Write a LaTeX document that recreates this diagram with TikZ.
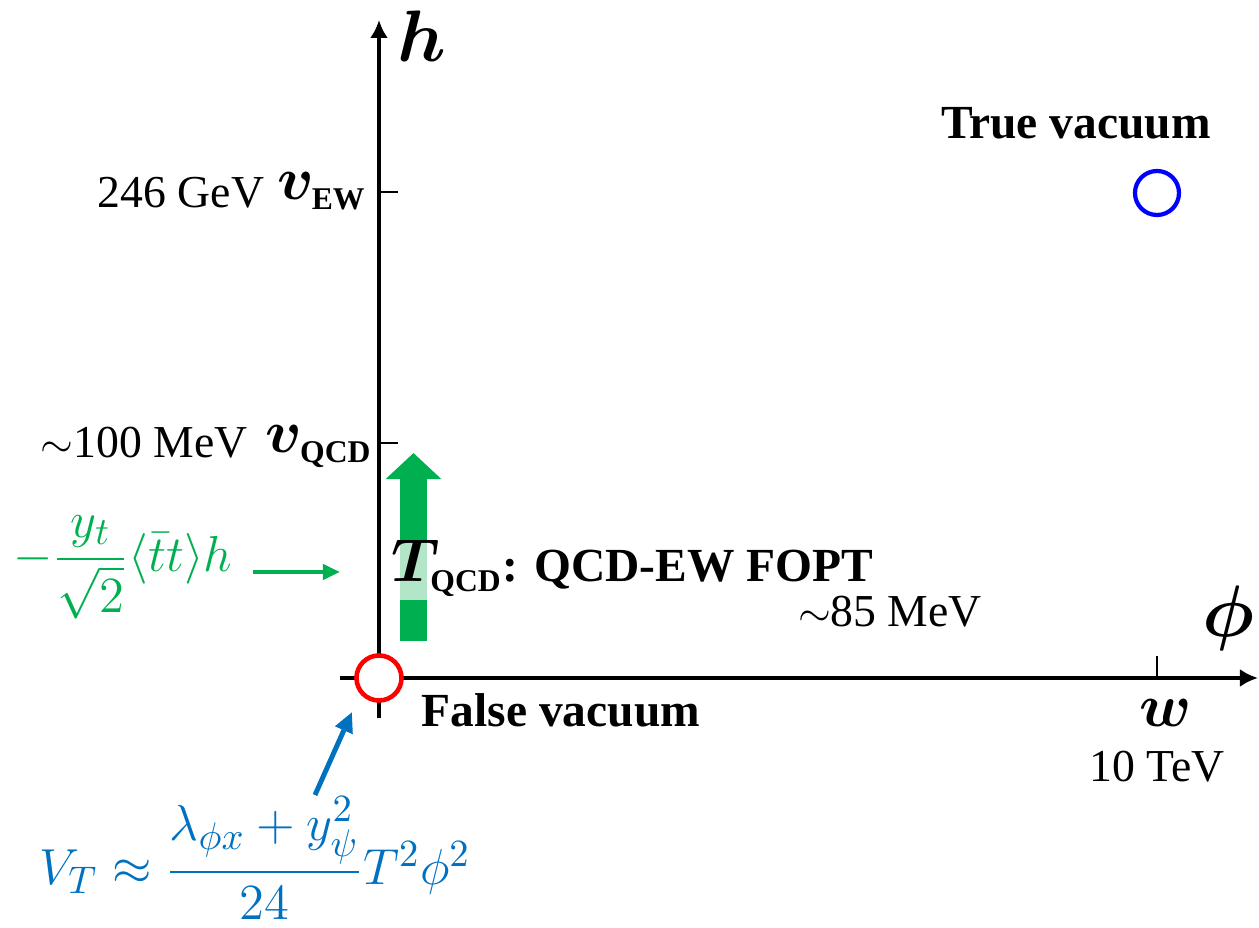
\documentclass[tikz,border=0pt]{standalone}
\usepackage{amsmath,amssymb,bm}
\usepackage{fontspec}
\setmainfont{Liberation Serif}
\usetikzlibrary{arrows.meta,calc}

\definecolor{fopt}{RGB}{0,176,80}
\definecolor{foptlight}{RGB}{179,229,200}
\definecolor{thermal}{RGB}{0,112,192}

\newcommand{\subbf}[1]{_{\mbox{\fontsize{9}{11}\selectfont\bfseries #1}}}

\begin{document}
\begin{tikzpicture}[x=0.01cm,y=-0.01cm]
	\tikzstyle{every node}=[inner sep=0pt]
	\tikzstyle{lbl}=[font=\fontsize{13}{15}\selectfont]
	\tikzstyle{blbl}=[font=\fontsize{13.5}{16}\selectfont\bfseries]
	\tikzstyle{mlbl}=[font=\fontsize{16}{19}\selectfont]
	\tikzstyle{biglbl}=[font=\fontsize{21}{24}\selectfont]
	\tikzstyle{axis}=[line width=1.4pt,-{Latex[length=0.18cm,width=0.18cm]}]
	\tikzstyle{tick}=[line width=0.7pt]
	\useasboundingbox (0,0) rectangle (1259,928);

	% axes
	\coordinate (O) at (379,678);
	\coordinate (hbot) at (379,718);
	\coordinate (htop) at (379,20);
	\coordinate (pleft) at (340,678);
	\coordinate (pright) at (1258,678);
	\draw [axis] (hbot) to (htop);
	\draw [axis] (pleft) to (pright);
	\node [biglbl] (hlabel) at (422,36) {$\bm{h}$};
	\node [biglbl] (philabel) at (1228,618) {$\bm{\phi}$};

	% ticks
	\coordinate (vew) at (379,192);
	\coordinate (vqcd) at (379,443);
	\coordinate (wtick) at (1157,678);
	\foreach \t in {vew,vqcd}{
	\draw [tick] (\t) to ++(19,0);
	}
	\draw [tick] (wtick) to ++(0,-22);

	% Annotations
	\node [mlbl,anchor=base east] (vewlabel) at (367,200) {$\bm{v}\subbf{EW}$};
	\node [lbl,anchor=base] (vewval) at (181,208) {246 GeV};
	\node [mlbl,anchor=base east] (vqcdlabel) at (373,453) {$\bm{v}\subbf{QCD}$};
	\node [lbl,anchor=base] (vqcdval) at (144,458) {$\sim$100 MeV};
	\node [mlbl,anchor=base] (wlabel) at (1166,727) {$\bm{w}$};
	\node [lbl,anchor=base] (wval) at (1157,782) {10 TeV};
	\node [lbl,anchor=base] (tval) at (890,627) {$\sim$85 MeV};

	% vacua
	\node [blbl,anchor=base] (truelabel) at (1076,139) {True vacuum};
	\node [circle,draw=blue,line width=1.2pt,minimum size=0.44cm] (truevac) at (1157,193) {};
	\node [blbl,anchor=base] (falselabel) at (561,727) {False vacuum};
	\node [circle,draw=red,fill=white,line width=1.3pt,minimum size=0.45cm] (falsevac) at (O) {};

	% transition arrow
	\coordinate (fbot) at (413.5,641);
	\coordinate (ftop) at (413.5,453);
	\draw [fopt,line width=0.27cm,-{Triangle[length=0.26cm,width=0.54cm]}] (fbot) to (ftop);
	\fill [foptlight] (400,543) rectangle (427,600);
	\node [anchor=base west] (tqcd) at (391,582)
	  {\fontsize{16}{19}\selectfont$\bm{T}\subbf{QCD}$\fontsize{13.5}{16}\selectfont\bfseries: QCD-EW FOPT};

	% top quark condensate
	\node [fopt,font=\fontsize{15}{18}\selectfont] (ttbar) at (123,567)
	  {$-\dfrac{y_t}{\sqrt{2}}\langle\bar{t}t\rangle h$};
	\coordinate (ttarrow) at (340,572);
	\draw [fopt,line width=1.2pt,shorten <=0.2cm,-{Triangle[length=0.17cm,width=0.15cm]}] (ttbar.east |- ttarrow) to (ttarrow);

	% thermal potential
	\node [thermal,font=\fontsize{15}{18}\selectfont] (vt) at (255,858)
	  {$V_T\approx\dfrac{\lambda_{\phi x}+y_\psi^2}{24}T^2\phi^2$};
	\coordinate (vtfrom) at (315,795);
	\coordinate (vtto) at (352,712);
	\draw [thermal,line width=1.4pt,-{Triangle[length=0.2cm,width=0.18cm]}] (vtfrom) to (vtto);

\end{tikzpicture}
\end{document}
